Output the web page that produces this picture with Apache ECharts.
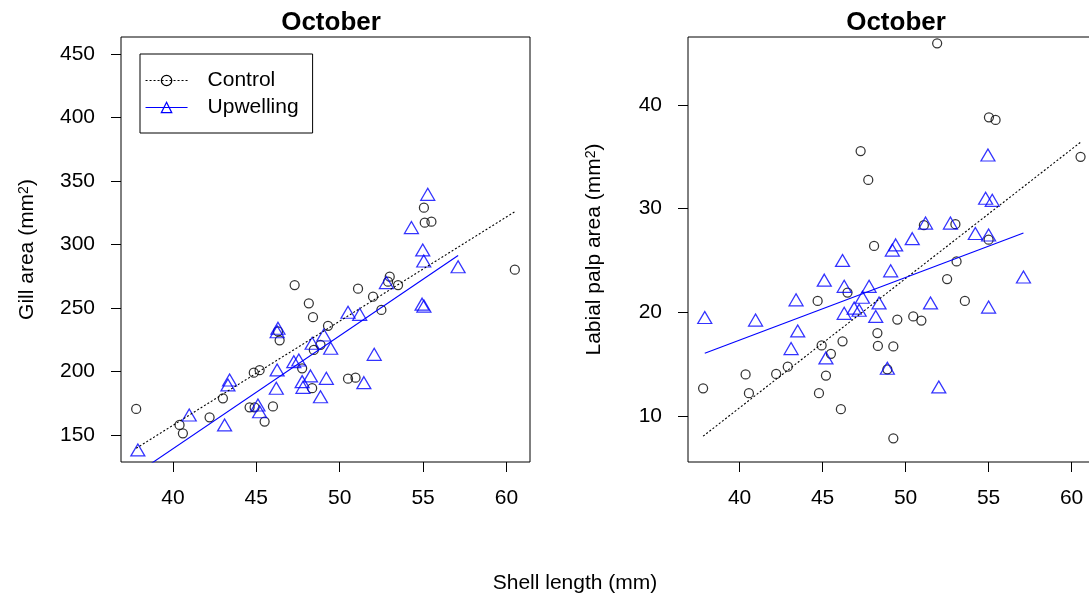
<!DOCTYPE html>
<html><head><meta charset="utf-8">
<script src="https://cdn.jsdelivr.net/npm/echarts@6/dist/echarts.min.js"></script>
<style>html,body{margin:0;padding:0;background:#fff}#c{width:1089px;height:596px}</style>
</head><body><div id="c"></div>
<script>
// ---- data ----
const xTicks = [40, 45, 50, 55, 60];
const gillTicks = [150, 200, 250, 300, 350, 400, 450];
const palpTicks = [10, 20, 30, 40];

const gillControl = [
  [37.8,170.5],[40.4,157.9],[40.6,151.3],[42.2,163.9],[43.0,178.9],[44.6,171.8],[44.85,199.0],
  [44.9,171.8],[45.2,201.0],[45.5,160.5],[46.0,172.5],[46.3,231.5],[46.4,224.5],[47.3,268.0],
  [47.75,202.5],[48.15,253.7],[48.35,186.8],[48.4,242.7],[48.45,217.0],[48.85,221.0],[49.3,236.0],
  [50.5,194.3],[50.95,195.1],[51.1,265.2],[52.0,258.9],[52.5,248.5],[52.9,270.7],[53.0,274.6],
  [53.5,268.0],[55.05,329.0],[55.1,317.2],[55.5,318.0],[60.5,280.2]
];
const gillUpwelling = [
  [37.9,138.2],[40.98,165.7],[43.1,157.9],[43.3,189.4],[43.4,193.3],[45.1,173.6],[45.2,168.3],
  [46.2,186.8],[46.25,201.2],[46.25,231.3],[46.3,234.0],[47.25,207.7],[47.55,209.0],[47.75,192.0],
  [47.8,187.5],[48.25,196.5],[48.35,222.2],[48.85,180.1],[49.05,228.7],[49.2,194.6],[49.46,218.3],
  [50.5,246.6],[51.2,245.0],[51.45,191.2],[52.07,213.5],[52.8,270.0],[54.3,313.3],[54.94,253.0],
  [55.05,251.5],[54.98,295.7],[55.04,287.0],[55.28,339.5],[57.1,282.5]
];
const gillControlFit = [[37.8,139.5],[60.5,325.8]];
const gillUpwellingFit = [[37.9,120.4],[57.1,291.3]];

const palpControl = [
  [37.8,12.67],[40.36,14.0],[40.56,12.2],[42.2,14.05],[42.9,14.75],[44.7,21.1],[44.78,12.2],
  [44.94,16.8],[45.2,13.9],[45.5,16.0],[46.1,10.65],[46.2,17.2],[46.5,21.9],[47.29,35.55],
  [47.75,32.76],[48.1,26.4],[48.3,18.0],[48.33,16.75],[48.9,14.5],[49.26,16.7],[49.26,7.85],
  [49.5,19.3],[50.46,19.6],[50.95,19.2],[51.1,28.4],[51.9,45.94],[52.5,23.2],[53.0,28.5],
  [53.07,24.9],[53.57,21.1],[55.0,27.0],[55.02,38.8],[55.42,38.55],[60.54,35.0]
];
const palpUpwelling = [
  [37.9,19.5],[40.96,19.25],[43.1,16.5],[43.4,21.2],[43.5,18.2],[45.1,23.1],[45.2,15.6],
  [46.2,25.0],[46.3,22.5],[46.3,19.9],[46.9,20.4],[47.2,20.2],[47.4,21.45],[47.8,22.5],
  [48.2,19.6],[48.4,20.9],[48.9,14.6],[49.1,24.0],[49.2,26.0],[49.4,26.5],[50.4,27.1],
  [51.2,28.6],[51.5,20.9],[52.0,12.8],[52.7,28.6],[54.2,27.6],[54.82,31.0],[54.96,35.17],
  [55.0,27.45],[55.0,20.5],[55.22,30.8],[57.1,23.4]
];
const palpControlFit = [[37.8,8.05],[60.54,36.4]];
const palpUpwellingFit = [[37.9,16.05],[57.1,27.65]];

// ---- chart ----
const FONT = "'Liberation Sans', Arial, sans-serif";
const FS = 21;
const hollowBlack = {color: 'rgba(0,0,0,0)', borderColor: '#000', borderWidth: 1.25};
const hollowBlue = {color: 'rgba(0,0,0,0)', borderColor: '#0000ff', borderWidth: 1.25};

function xAxis(gi) {
  return {
    type: 'value', gridIndex: gi, min: 36.89, max: 61.41,
    splitLine: {show: false}, axisLine: {show: false},
    axisTick: {show: true, inside: false, length: 10, customValues: xTicks, lineStyle: {color: '#000', width: 1}},
    axisLabel: {show: true, customValues: xTicks, margin: 26, color: '#000', fontSize: FS, fontFamily: FONT}
  };
}
function yAxis(gi, min, max, ticks, name) {
  return {
    type: 'value', gridIndex: gi, min: min, max: max,
    splitLine: {show: false}, axisLine: {show: false},
    axisTick: {show: true, inside: false, length: 10, customValues: ticks, lineStyle: {color: '#000', width: 1}},
    axisLabel: {show: true, customValues: ticks, margin: 26, color: '#000', fontSize: FS, fontFamily: FONT},
    name: name, nameLocation: 'middle', nameGap: 83, nameRotate: 90,
    nameTextStyle: {color: '#000', fontSize: FS, fontFamily: FONT,
      rich: {sup: {fontSize: 14, color: '#000', fontFamily: FONT, verticalAlign: 'top', lineHeight: 14}}}
  };
}
function fitLine(name, gi, data, color, type) {
  return {
    name: name, type: 'line', xAxisIndex: gi, yAxisIndex: gi, data: data,
    symbol: name === 'Control' ? 'circle' : 'triangle', showSymbol: false, silent: true,
    lineStyle: {color: color, width: 1.1, type: type},
    itemStyle: name === 'Control' ? hollowBlack : hollowBlue,
    clip: true, animation: false, z: 3
  };
}
function pts(name, gi, data) {
  const isC = name === 'Control';
  return {
    name: name, type: 'scatter', xAxisIndex: gi, yAxisIndex: gi, data: data,
    symbol: isC ? 'circle' : 'triangle', symbolSize: isC ? 9 : [14, 12],
    itemStyle: isC ? hollowBlack : hollowBlue, animation: false, z: 2
  };
}

const chart = echarts.init(document.getElementById('c'), null, {renderer: 'canvas'});
chart.setOption({
  backgroundColor: '#fff',
  animation: false,
  textStyle: {fontFamily: FONT},
  title: [
    {text: 'October', left: 326, top: 5, textAlign: 'center',
     textStyle: {fontSize: 26, fontWeight: 'bold', color: '#000', fontFamily: FONT}},
    {text: 'October', left: 891, top: 5, textAlign: 'center',
     textStyle: {fontSize: 26, fontWeight: 'bold', color: '#000', fontFamily: FONT}},
    {text: 'Shell length (mm)', left: 570, top: 568, textAlign: 'center',
     textStyle: {fontSize: FS, fontWeight: 'normal', color: '#000', fontFamily: FONT}}
  ],
  grid: [
    {left: 121, top: 37, width: 409, height: 425, show: true, borderColor: '#000', borderWidth: 1,
     backgroundColor: 'rgba(0,0,0,0)', containLabel: false, outerBoundsMode: 'none'},
    {left: 688, top: 37, width: 407, height: 425, show: true, borderColor: '#000', borderWidth: 1,
     backgroundColor: 'rgba(0,0,0,0)', containLabel: false, outerBoundsMode: 'none'}
  ],
  xAxis: [xAxis(0), xAxis(1)],
  yAxis: [
    yAxis(0, 128.7, 463.4, gillTicks, 'Gill area (mm{sup|2})'),
    yAxis(1, 5.56, 46.55, palpTicks, 'Labial palp area (mm{sup|2})')
  ],
  legend: {
    left: 140, top: 54, orient: 'vertical',
    data: [
      {name: 'Control', itemStyle: {color: 'rgba(0,0,0,0)', borderColor: '#000', borderWidth: 1.25, borderType: 'solid'},
       lineStyle: {color: '#000', width: 1.1, type: [2, 2]}},
      {name: 'Upwelling', itemStyle: {color: 'rgba(0,0,0,0)', borderColor: '#0000ff', borderWidth: 1.25, borderType: 'solid'},
       lineStyle: {color: '#0000ff', width: 1.1, type: 'solid'}}
    ],
    itemWidth: 42, itemHeight: 13, itemGap: 6,
    padding: [16, 14, 15, 5],
    borderColor: '#000', borderWidth: 1, backgroundColor: '#fff',
    selectedMode: false,
    textStyle: {color: '#000', fontSize: FS, fontFamily: FONT, padding: [0, 0, 0, 15]}
  },
  series: [
    fitLine('Control', 0, gillControlFit, '#000', [2, 2]),
    fitLine('Upwelling', 0, gillUpwellingFit, '#0000ff', 'solid'),
    fitLine('Control', 1, palpControlFit, '#000', [2, 2]),
    fitLine('Upwelling', 1, palpUpwellingFit, '#0000ff', 'solid'),
    pts('Control', 0, gillControl),
    pts('Upwelling', 0, gillUpwelling),
    pts('Control', 1, palpControl),
    pts('Upwelling', 1, palpUpwelling)
  ]
});
</script>
</body></html>
